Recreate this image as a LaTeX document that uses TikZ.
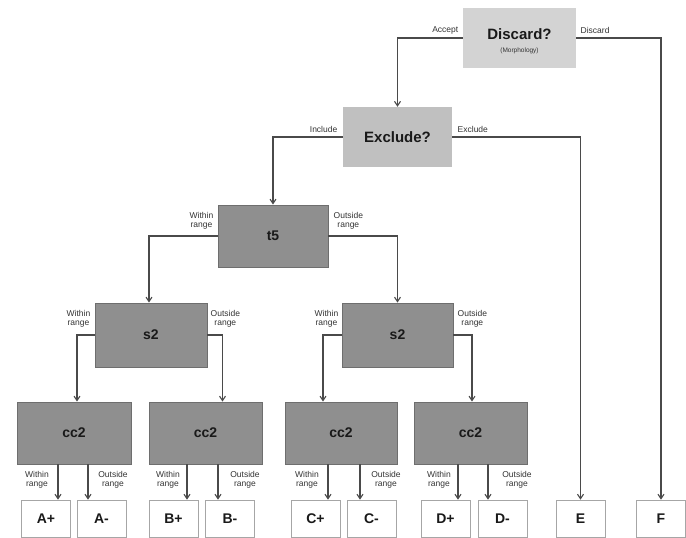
\documentclass[tikz,border=0pt]{standalone}
\usepackage{fontspec}
\setmainfont{Liberation Sans}
\usetikzlibrary{arrows.meta}
\definecolor{lgA}{HTML}{D3D3D3}
\definecolor{lgB}{HTML}{C0C0C0}
\definecolor{dg}{HTML}{8F8F8F}
\definecolor{dgb}{HTML}{6E6E6E}
\definecolor{ln}{HTML}{4A4A4A}
\definecolor{tx}{HTML}{333333}
\tikzset{
  decbox/.style={fill=#1, draw=none, inner sep=0pt, font=\bfseries\fontsize{15}{17}\selectfont, text=black!90},
  testbox/.style={fill=dg, draw=dgb, line width=0.8pt, minimum height=62pt, inner sep=0pt, font=\bfseries\fontsize{14}{16}\selectfont, text=black!90},
  leaf/.style={draw=black!35, fill=white, line width=0.6pt, minimum width=49pt, minimum height=37pt, inner sep=0pt, font=\bfseries\fontsize{14}{16}\selectfont, text=black!90},
  arr/.style={draw=ln, line width=1.1pt, -{Straight Barb[length=4.5pt,width=6pt]}},
  lab/.style={font=\fontsize{8.5}{9}\selectfont, text=tx, inner sep=0.5pt, align=center},
}
\begin{document}
\begin{tikzpicture}[x=1pt,y=-1pt]
\useasboundingbox (0,0) rectangle (686,538);
% decision nodes
\node[decbox=lgA, minimum width=113pt, minimum height=60pt] (disc) at (519.5,38) {};
\node[font=\bfseries\fontsize{15}{17}\selectfont, text=black!90, inner sep=0pt] (disct) at (519.5,34) {Discard?};
\node[font=\fontsize{6.5}{7}\selectfont, text=tx, inner sep=0pt] (discm) at (519.5,51) {(Morphology)};
\node[decbox=lgB, minimum width=109pt, minimum height=60pt] (excl) at (397.5,137) {Exclude?};
% test nodes
\node[testbox, minimum width=110pt] (t5) at (273,236) {t5};
\node[testbox, minimum width=112pt, minimum height=64pt] (s2L) at (151,335) {s2};
\node[testbox, minimum width=111pt, minimum height=64pt] (s2R) at (397.5,335) {s2};
\node[testbox, minimum width=114pt] (c1) at (74,433) {cc2};
\node[testbox, minimum width=113pt] (c2) at (205.5,433) {cc2};
\node[testbox, minimum width=112pt] (c3) at (341,433) {cc2};
\node[testbox, minimum width=113pt] (c4) at (470.5,433) {cc2};
% leaves
\node[leaf] (Ap) at (46,518.5) {A+};
\node[leaf] (Am) at (101.5,518.5) {A-};
\node[leaf] (Bp) at (173.5,518.5) {B+};
\node[leaf] (Bm) at (230,518.5) {B-};
\node[leaf] (Cp) at (315.5,518.5) {C+};
\node[leaf] (Cm) at (371.5,518.5) {C-};
\node[leaf] (Dp) at (445.5,518.5) {D+};
\node[leaf] (Dm) at (502.5,518.5) {D-};
\node[leaf] (E) at (580.5,518.5) {E};
\node[leaf] (F) at (661,518.5) {F};
% upper connectors
\draw[arr] (disc.west) -| (excl.north);
\draw[arr] (disc.east) -| (F.north);
\draw[arr] (excl.west) -| (t5.north);
\draw[arr] (excl.east) -| (E.north);
\draw[arr] (t5.west) -| ([xshift=-2pt]s2L.north);
\draw[arr] (t5.east) -| (s2R.north);
\draw[arr] (s2L.west) -| ([xshift=3pt]c1.north);
\draw[arr] (s2L.east) -| ([xshift=17pt]c2.north);
\draw[arr] (s2R.west) -| ([xshift=-18pt]c3.north);
\draw[arr] (s2R.east) -| ([xshift=1.5pt]c4.north);
% lower connectors
\draw[arr] ([xshift=-16pt]c1.south) -- ([xshift=-16pt]c1.south |- Ap.north);
\draw[arr] ([xshift=14pt]c1.south) -- ([xshift=14pt]c1.south |- Am.north);
\draw[arr] ([xshift=-18.5pt]c2.south) -- ([xshift=-18.5pt]c2.south |- Bp.north);
\draw[arr] ([xshift=12.5pt]c2.south) -- ([xshift=12.5pt]c2.south |- Bm.north);
\draw[arr] ([xshift=-13pt]c3.south) -- ([xshift=-13pt]c3.south |- Cp.north);
\draw[arr] ([xshift=19pt]c3.south) -- ([xshift=19pt]c3.south |- Cm.north);
\draw[arr] ([xshift=-12.5pt]c4.south) -- ([xshift=-12.5pt]c4.south |- Dp.north);
\draw[arr] ([xshift=17.5pt]c4.south) -- ([xshift=17.5pt]c4.south |- Dm.north);
% labels
\node[lab, anchor=east] (lAcc) at (459,30) {Accept};
\node[lab, anchor=west] (lDis) at (580,30) {Discard};
\node[lab, anchor=east] (lInc) at (338,129) {Include};
\node[lab, anchor=west] (lExc) at (457,129) {Exclude};
\node[lab, anchor=east] (lt5w) at (214,221) {Within\\range};
\node[lab, anchor=west] (lt5o) at (333,221) {Outside\\range};
\node[lab, anchor=east] (ls2w) at (91,319) {Within\\range};
\node[lab, anchor=west] (ls2o) at (210,319) {Outside\\range};
\node[lab, anchor=east] (ls3w) at (339,319) {Within\\range};
\node[lab, anchor=west] (ls3o) at (457,319) {Outside\\range};
\node[lab] (lc1w) at (37,480) {Within\\range};
\node[lab] (lc1o) at (113,480) {Outside\\range};
\node[lab] (lc2w) at (168,480) {Within\\range};
\node[lab] (lc2o) at (245,480) {Outside\\range};
\node[lab] (lc3w) at (307,480) {Within\\range};
\node[lab] (lc3o) at (386,480) {Outside\\range};
\node[lab] (lc4w) at (439,480) {Within\\range};
\node[lab] (lc4o) at (517,480) {Outside\\range};
\end{tikzpicture}
\end{document}
